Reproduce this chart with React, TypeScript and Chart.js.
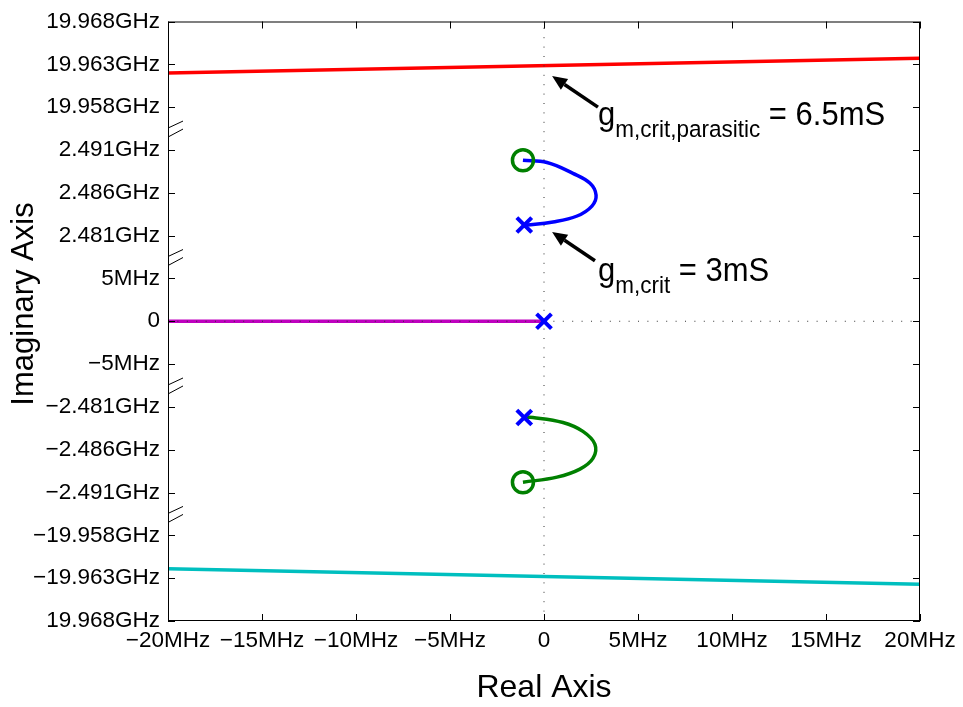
import React, { useEffect, useRef } from "react";
import { Chart, registerables } from "chart.js";

Chart.register(...registerables);

const FONT = "'Liberation Sans', Arial, Helvetica, sans-serif";

// ---- axis ticks ----
const xTickValues = [-20, -15, -10, -5, 0, 5, 10, 15, 20];
const xTickLabels = ["−20MHz", "−15MHz", "−10MHz", "−5MHz", "0", "5MHz", "10MHz", "15MHz", "20MHz"];
// bottom to top (broken axis, one label per tick position)
const yTickLabels = [
  "19.968GHz", "−19.963GHz", "−19.958GHz",
  "−2.491GHz", "−2.486GHz", "−2.481GHz",
  "−5MHz", "0", "5MHz",
  "2.481GHz", "2.486GHz", "2.491GHz",
  "19.958GHz", "19.963GHz", "19.968GHz",
];
// broken axis segments: lowest value (GHz) and tick index of that value
const segmentLow = [-19.968, -2.491, -0.005, 2.481, 19.958];
const segmentBase = [0, 3, 6, 9, 12];
const segmentStep = 0.005; // GHz per tick
const breakPositions = [2.5, 5.5, 8.5, 11.5];

// ---- series (real part in MHz, imaginary part in GHz) ----
const redReal = [-20, 20];
const redImag = [19.962, 19.9637];
const cyanReal = [-20, 20];
const cyanImag = [-19.9619, -19.9637];
const magentaReal = [-20, 0];
const magentaImag = [0, 0];
const blueReal = [-1.05, -0.9, 0.48, 1.76, 2.55, 2.77, 2.45, 1.54, 0.16, -1.12];
const blueImag = [2.48224, 2.48224, 2.48259, 2.48329, 2.48445, 2.48572, 2.48711, 2.48827, 2.48954, 2.4898];
const greenReal = [-1.05, -0.59, 1.01, 2.07, 2.71, 2.61, 1.91, 0.69, -1.12];
const greenImag = [-2.48224, -2.48224, -2.48282, -2.48386, -2.48537, -2.48699, -2.48827, -2.4892, -2.4898];
const poleReal = [-1.05, 0, -1.05];
const poleImag = [2.48224, 0, -2.48224];
const zeroReal = [-1.12, -1.12];
const zeroImag = [2.4898, -2.4898];

// annotations (x in MHz, y in axis tick units)
const annotations = [
  { tip: [0.43, 12.726], tail: [2.87, 12.0], textAt: [2.87, 11.59], sub: "m,crit,parasitic", rest: " = 6.5mS" },
  { tip: [0.43, 9.087], tail: [2.71, 8.414], textAt: [2.87, 7.95], sub: "m,crit", rest: " = 3mS" },
];

const Y_MIN = 0;
const Y_MAX = 14;

function toAxis(v: number): number {
  for (let i = 0; i < segmentLow.length; i++) {
    const lo = segmentLow[i];
    if (v >= lo - 0.004 && v <= lo + 0.014) return segmentBase[i] + (v - lo) / segmentStep;
  }
  return NaN;
}

function pts(re: number[], im: number[]) {
  return re.map((r, i) => ({ x: r, y: toAxis(im[i]) }));
}

const framePlugin = {
  id: "frame",
  afterDraw(chart: any) {
    const { ctx, chartArea: a, scales } = chart;
    const xs = scales.x;
    const ys = scales.y;
    ctx.save();
    ctx.strokeStyle = "#000";
    ctx.lineWidth = 1;
    // box
    ctx.strokeRect(a.left + 0.5, a.top + 0.5, a.right - a.left - 1, a.bottom - a.top - 1);
    // inward ticks
    ctx.beginPath();
    for (const v of xTickValues) {
      const px = Math.round(xs.getPixelForValue(v)) + 0.5;
      ctx.moveTo(px, a.bottom);
      ctx.lineTo(px, a.bottom - 7);
      ctx.moveTo(px, a.top);
      ctx.lineTo(px, a.top + 7);
    }
    yTickLabels.forEach((_, i) => {
      const py = Math.round(ys.getPixelForValue(i)) + 0.5;
      ctx.moveTo(a.left, py);
      ctx.lineTo(a.left + 7, py);
      ctx.moveTo(a.right, py);
      ctx.lineTo(a.right - 7, py);
    });
    ctx.stroke();
    // axis break marks
    ctx.beginPath();
    for (const b of breakPositions) {
      const c = ys.getPixelForValue(b);
      ctx.moveTo(a.left, c - 0.5);
      ctx.lineTo(a.left + 15, c - 7.5);
      ctx.moveTo(a.left, c + 8.5);
      ctx.lineTo(a.left + 15, c + 0.5);
    }
    ctx.stroke();

    // axis titles
    ctx.fillStyle = "#000";
    ctx.font = `32px ${FONT}`;
    ctx.textAlign = "center";
    ctx.textBaseline = "alphabetic";
    ctx.fillText("Real Axis", (a.left + a.right) / 2, 697);
    ctx.save();
    ctx.translate(33, 304);
    ctx.rotate(-Math.PI / 2);
    ctx.font = `31px ${FONT}`;
    ctx.fillText("Imaginary Axis", 0, 0);
    ctx.restore();

    // annotations
    for (const an of annotations) {
      const tx = xs.getPixelForValue(an.tip[0]);
      const ty = ys.getPixelForValue(an.tip[1]);
      const sx = xs.getPixelForValue(an.tail[0]);
      const sy = ys.getPixelForValue(an.tail[1]);
      const ang = Math.atan2(ty - sy, tx - sx);
      const headLen = 15;
      const headW = 6.5;
      const bx = tx - headLen * Math.cos(ang);
      const by = ty - headLen * Math.sin(ang);
      ctx.strokeStyle = "#000";
      ctx.lineWidth = 3.5;
      ctx.beginPath();
      ctx.moveTo(sx, sy);
      ctx.lineTo(bx, by);
      ctx.stroke();
      ctx.beginPath();
      ctx.moveTo(tx, ty);
      ctx.lineTo(bx + headW * Math.sin(ang), by - headW * Math.cos(ang));
      ctx.lineTo(bx - headW * Math.sin(ang), by + headW * Math.cos(ang));
      ctx.closePath();
      ctx.fill();

      const x0 = xs.getPixelForValue(an.textAt[0]);
      const y0 = ys.getPixelForValue(an.textAt[1]);
      ctx.textAlign = "left";
      ctx.save();
      ctx.translate(x0, y0);
      ctx.scale(1, 1.1);
      ctx.font = `31px ${FONT}`;
      ctx.fillText("g", 0, 0);
      const gw = ctx.measureText("g").width;
      ctx.font = `22.5px ${FONT}`;
      ctx.fillText(an.sub, gw, 11.5);
      const sw = ctx.measureText(an.sub).width;
      ctx.font = `31px ${FONT}`;
      ctx.fillText(an.rest, gw + sw, 0);
      ctx.restore();
    }
    ctx.restore();
  },
};

export default function App() {
  const ref = useRef<HTMLCanvasElement | null>(null);

  useEffect(() => {
    if (!ref.current) return;
    const lineDs = (label: string, data: any[], color: string, tension = 0) => ({
      label,
      data,
      showLine: true,
      borderColor: color,
      backgroundColor: color,
      borderWidth: 3.5,
      pointRadius: 0,
      tension,
      order: 2,
    });
    const chart = new Chart(ref.current, {
      type: "scatter",
      data: {
        datasets: [
          lineDs("red", pts(redReal, redImag), "rgb(255,0,0)"),
          lineDs("cyan", pts(cyanReal, cyanImag), "rgb(0,191,191)"),
          lineDs("magenta", pts(magentaReal, magentaImag), "rgb(191,0,191)"),
          lineDs("blue", pts(blueReal, blueImag), "rgb(0,0,255)", 0.4),
          lineDs("green", pts(greenReal, greenImag), "rgb(0,128,0)", 0.4),
          {
            label: "imag axis",
            data: [{ x: 0, y: Y_MIN }, { x: 0, y: Y_MAX }],
            showLine: true,
            borderColor: "#333",
            borderWidth: 1,
            borderDash: [1, 8.4],
            pointRadius: 0,
            order: 1,
          },
          {
            label: "real axis",
            data: [{ x: -20, y: toAxis(0) }, { x: 20, y: toAxis(0) }],
            showLine: true,
            borderColor: "#333",
            borderWidth: 1,
            borderDash: [1, 8.4],
            pointRadius: 0,
            order: 1,
          },
          {
            label: "poles",
            data: pts(poleReal, poleImag),
            showLine: false,
            pointStyle: "crossRot",
            pointRadius: 10.5,
            borderWidth: 4,
            borderColor: "rgb(0,0,255)",
            backgroundColor: "rgb(0,0,255)",
            order: 0,
          },
          {
            label: "zeros",
            data: pts(zeroReal, zeroImag),
            showLine: false,
            pointStyle: "circle",
            pointRadius: 10.5,
            borderWidth: 3.5,
            borderColor: "rgb(0,128,0)",
            backgroundColor: "rgba(0,0,0,0)",
            order: 0,
          },
        ],
      },
      options: {
        responsive: false,
        animation: false,
        events: [],
        layout: { padding: { left: 0, top: 17, right: 43, bottom: 0 } },
        plugins: { legend: { display: false }, tooltip: { enabled: false } },
        scales: {
          x: {
            type: "linear",
            min: -20,
            max: 20,
            afterBuildTicks: (s: any) => {
              s.ticks = xTickValues.map((v) => ({ value: v }));
            },
            afterFit: (s: any) => {
              s.height = 86;
            },
            ticks: {
              callback: (_v: any, i: number) => xTickLabels[i],
              font: { family: FONT, size: 22.5 },
              color: "#000",
              padding: 6,
              maxRotation: 0,
              autoSkip: false,
            },
            grid: { display: false, drawTicks: false },
            border: { display: false },
          },
          y: {
            type: "linear",
            min: Y_MIN,
            max: Y_MAX,
            afterBuildTicks: (s: any) => {
              s.ticks = yTickLabels.map((_, i) => ({ value: i }));
            },
            afterFit: (s: any) => {
              s.width = 168;
            },
            ticks: {
              callback: (_v: any, i: number) => yTickLabels[i],
              font: { family: FONT, size: 22.5 },
              color: "#000",
              padding: 8,
              autoSkip: false,
            },
            grid: { display: false, drawTicks: false },
            border: { display: false },
          },
        },
      },
      plugins: [framePlugin],
    });
    return () => chart.destroy();
  }, []);

  return (
    <div style={{ position: "absolute", left: 0, top: 0, width: 963, height: 707, background: "#fff" }}>
      <canvas ref={ref} width={963} height={707} style={{ display: "block" }} />
    </div>
  );
}
